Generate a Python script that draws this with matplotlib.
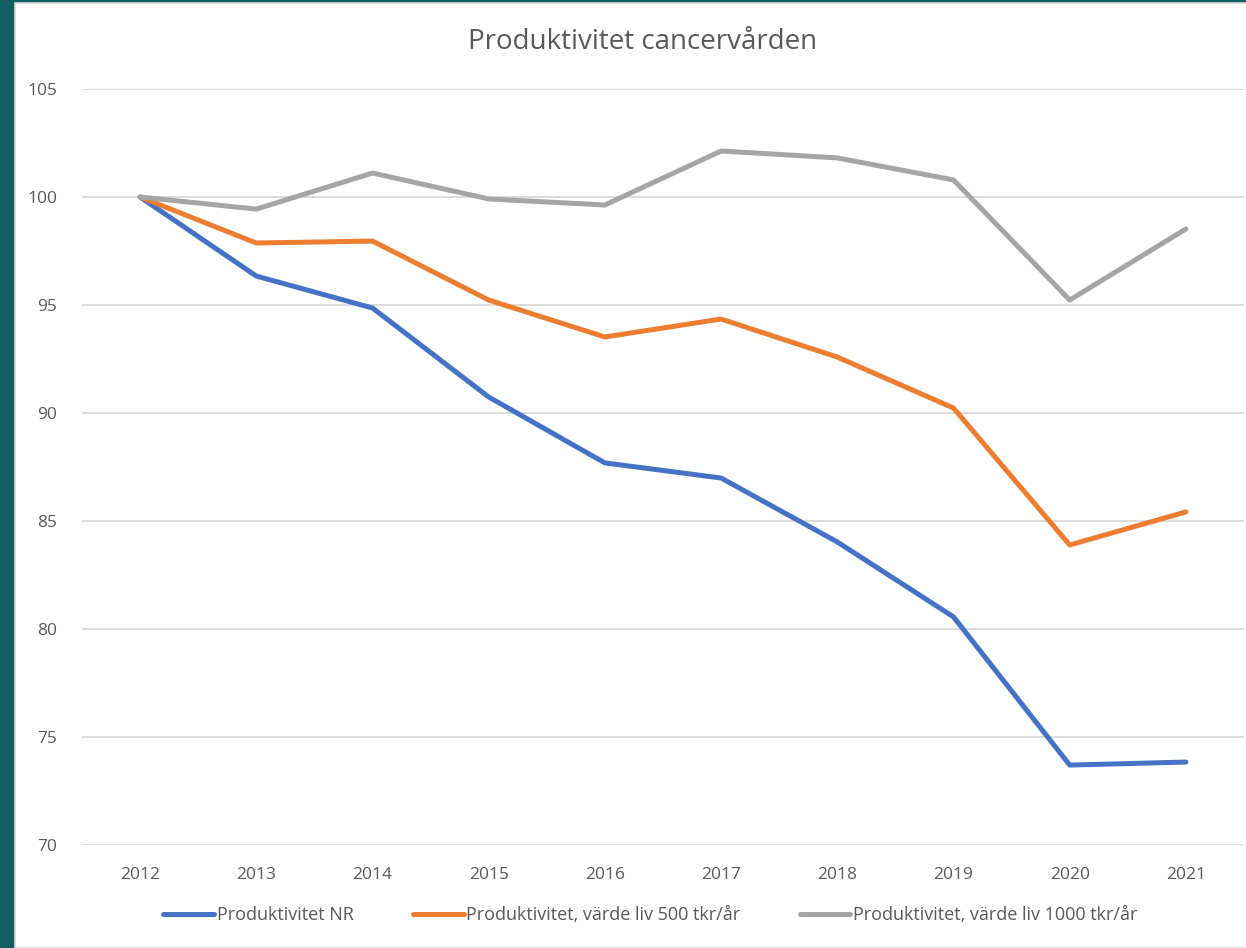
import matplotlib.pyplot as plt
from matplotlib.patches import Rectangle

plt.rcParams['font.family'] = ['Open Sans', 'DejaVu Sans']

years = [2012, 2013, 2014, 2015, 2016, 2017, 2018, 2019, 2020, 2021]
prod_nr = [100.0, 96.34, 94.86, 90.74, 87.69, 86.99, 84.03, 80.56, 73.70, 73.84]
prod_500 = [100.0, 97.87, 97.96, 95.23, 93.52, 94.35, 92.59, 90.23, 83.89, 85.42]
prod_1000 = [100.0, 99.44, 101.11, 99.91, 99.63, 102.13, 101.81, 100.79, 95.23, 98.52]
labels = ["Produktivitet NR",
          "Produktivitet, värde liv 500 tkr/år",
          "Produktivitet, värde liv 1000 tkr/år"]
colors = ["#4472C4", "#ED7D31", "#A5A5A5"]
txt = "#595959"

fig = plt.figure(figsize=(12.46, 9.48), dpi=100)
# dark teal frame on the left and top
fig.patches.append(Rectangle((0, 0), 1, 1, transform=fig.transFigure,
                             facecolor="#115E63", edgecolor="none", zorder=-3))
fig.patches.append(Rectangle((15 / 1246, 0), 1, 1 - 3 / 948, transform=fig.transFigure,
                             facecolor="white", edgecolor="#D9D9D9", lw=1.2, zorder=-2))

ax = fig.add_axes([82 / 1246, 1 - 845 / 948, 1162 / 1246, (845 - 89) / 948])
ax.set_facecolor("none")
x = list(range(len(years)))
for vals, lab, c in zip([prod_nr, prod_500, prod_1000], labels, colors):
    ax.plot(x, vals, color=c, lw=3.6, label=lab, solid_capstyle="round",
            solid_joinstyle="round", zorder=3)

ax.set_xlim(-0.5, len(years) - 0.5)
ax.set_ylim(70, 105)
ax.set_yticks(range(70, 106, 5))
ax.set_xticks(x)
ax.set_xticklabels([str(y) for y in years])
ax.grid(axis="y", color="#D9D9D9", lw=1.3, zorder=0)
for s in ax.spines.values():
    s.set_visible(False)
ax.tick_params(length=0, labelsize=12.5, colors=txt)
ax.tick_params(axis="y", pad=18)
ax.tick_params(axis="x", pad=16)

fig.text(0.516, 1 - 42 / 948, "Produktivitet cancervården", ha="center", va="center",
         fontsize=20, color=txt)

fig.legend(loc="center", bbox_to_anchor=(0.522, 1 - 915 / 948), ncol=3, frameon=False,
           fontsize=13, labelcolor=txt, handlelength=2.8, handletextpad=0.15,
           columnspacing=3.3)

fig.savefig("out.png", dpi=100)
